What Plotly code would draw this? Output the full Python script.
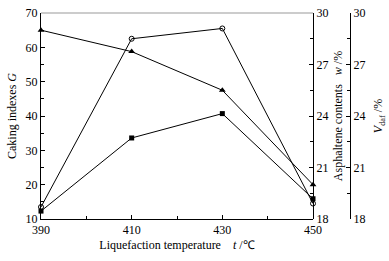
import plotly.graph_objects as go

temps = [390, 410, 430, 450]
caking_G = [12.3, 33.6, 40.7, 15.9]          # filled squares, left axis
asphaltene_w = [18.7, 28.5, 29.1, 18.9]      # open circles, right axis
volatile_V = [29.0, 27.75, 25.5, 20.0]       # filled triangles, outer right axis

x_ticks = [390, 410, 430, 450]
g_ticks = [10, 20, 30, 40, 50, 60, 70]
w_ticks = [18, 21, 24, 27, 30]

FONT = "'Liberation Serif', 'Times New Roman', serif"
W, H = 389, 261
L, R_ = 41, 350          # paper left/right in px
plot_right = 313
T, B = 13, 219
xdom_end = (plot_right - L) / (R_ - L)

fig = go.Figure()
line = dict(color="black", width=1)
fig.add_trace(go.Scatter(x=temps, y=caking_G, mode="lines+markers", line=line,
                         marker=dict(symbol="square", size=5, color="black"),
                         yaxis="y", cliponaxis=False))
fig.add_trace(go.Scatter(x=temps, y=asphaltene_w, mode="lines+markers", line=line,
                         marker=dict(symbol="circle-open", size=5, color="black", line=dict(width=1)),
                         yaxis="y2", cliponaxis=False))
fig.add_trace(go.Scatter(x=temps, y=volatile_V, mode="lines+markers", line=line,
                         marker=dict(symbol="triangle-up", size=6, color="black"),
                         yaxis="y3", cliponaxis=False))

axfont = dict(family=FONT, size=12, color="black")
common = dict(showgrid=False, zeroline=False, showline=True, linecolor="black", linewidth=1,
              ticks="inside", ticklen=4, tickcolor="black", tickfont=axfont,
              ticklabeloverflow="allow")

fig.update_layout(
    width=W, height=H,
    margin=dict(l=L, r=W - R_, t=T, b=H - B, autoexpand=False),
    paper_bgcolor="white", plot_bgcolor="white",
    showlegend=False,
    font=axfont,
    xaxis=dict(domain=[0, xdom_end], range=[390, 450], tickvals=x_ticks,
               minor=dict(dtick=10, ticks="inside", ticklen=3, tickcolor="black"),
               title=dict(text="Liquefaction temperature    <i>t</i> /℃", font=axfont, standoff=4),
               **common),
    yaxis=dict(range=[10, 70], tickvals=g_ticks,
               minor=dict(dtick=5, ticks="inside", ticklen=3, tickcolor="black"),
               title=dict(text="Caking indexes <i>G</i>", font=axfont, standoff=6),
               **common),
    yaxis2=dict(range=[18, 30], tickvals=w_ticks, overlaying="y", side="right",
                anchor="free", position=xdom_end,
                minor=dict(dtick=1.5, ticks="inside", ticklen=3, tickcolor="black"),
                title=dict(text="Asphaltene contents   <i>w</i> /%", font=axfont, standoff=6),
                **common),
    yaxis3=dict(range=[18, 30], tickvals=w_ticks, overlaying="y", side="right",
                anchor="free", position=1.0,
                minor=dict(dtick=1.5, ticks="inside", ticklen=3, tickcolor="black"),
                title=dict(text="<i>V</i><sub>daf</sub> /%", font=axfont, standoff=9),
                **common),
    shapes=[dict(type="line", xref="paper", yref="paper", x0=0, x1=xdom_end, y0=1, y1=1,
                 line=dict(color="#bbbbbb", width=1.5))],
)

fig.write_html("out.html", config={"displayModeBar": False},
               post_script="document.body.style.margin='0';document.body.style.overflow='hidden';")
